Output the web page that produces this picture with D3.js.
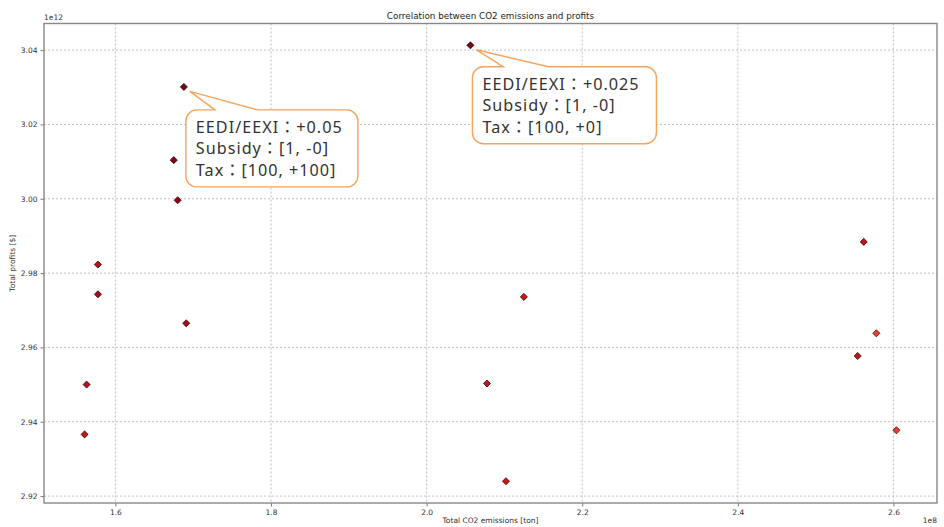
<!DOCTYPE html>
<html>
<head>
<meta charset="utf-8">
<script src="https://cdn.jsdelivr.net/npm/d3@7"></script>
<style>
  html, body { margin: 0; padding: 0; background: #fff; }
  svg { display: block; }
</style>
</head>
<body>
<svg id="chart" width="944" height="527"></svg>
<script>
// Scenario results: total CO2 emissions (×1e8 t) vs. total profits (×1e12 $)
const emissions = [1.688, 1.675, 1.680, 1.5775, 1.5776, 1.691, 1.563, 1.5604,
                   2.0563, 2.125, 2.0776, 2.102, 2.5618, 2.578, 2.554, 2.6038];
const profits   = [3.0301, 3.0104, 2.9996, 2.9823, 2.9743, 2.9665, 2.9500, 2.9366,
                   3.0413, 2.9736, 2.9503, 2.9240, 2.9884, 2.9638, 2.9577, 2.9377];
// colour intensity of each scenario (sequential Reds scale)
const tone      = [0.97, 0.94, 0.93, 0.83, 0.87, 0.87, 0.82, 0.80,
                   0.97, 0.77, 0.78, 0.77, 0.80, 0.62, 0.79, 0.63];

const xTicks = [1.6, 1.8, 2.0, 2.2, 2.4, 2.6];
const yTicks = [2.92, 2.94, 2.96, 2.98, 3.00, 3.02, 3.04];

// annotated scenarios: index of point and label lines
const notes = [
  { idx: 0, lines: ["EEDI/EEXI：+0.05", "Subsidy：[1, -0]", "Tax：[100, +100]"] },
  { idx: 8, lines: ["EEDI/EEXI：+0.025", "Subsidy：[1, -0]", "Tax：[100, +0]"] }
];

const svg = d3.select("#chart");
const W = 944, H = 527;
const m = { left: 44, right: 7, top: 23.5, bottom: 24 };
const pw = W - m.left - m.right, ph = H - m.top - m.bottom;

// matplotlib-like 5% data margins
function padded(vals) {
  const [a, b] = d3.extent(vals);
  const p = (b - a) * 0.05;
  return [a - p, b + p];
}
const x = d3.scaleLinear().domain(padded(emissions)).range([m.left, m.left + pw]);
const y = d3.scaleLinear().domain(padded(profits)).range([m.top + ph, m.top]);
const color = d3.scaleSequential(d3.interpolateReds).domain([0, 1]);

const font = "DejaVu Sans, sans-serif";

// grid
const grid = svg.append("g");
grid.selectAll(".gx").data(xTicks).join("line")
  .attr("x1", d => x(d)).attr("x2", d => x(d))
  .attr("y1", m.top).attr("y2", m.top + ph)
  .attr("stroke", "#b0b0b0").attr("stroke-width", 0.8).attr("stroke-dasharray", "2,2");
grid.selectAll(".gy").data(yTicks).join("line")
  .attr("y1", d => y(d)).attr("y2", d => y(d))
  .attr("x1", m.left).attr("x2", m.left + pw)
  .attr("stroke", "#b0b0b0").attr("stroke-width", 0.8).attr("stroke-dasharray", "2,2");

// axes
const xAxis = d3.axisBottom(x).tickValues(xTicks).tickFormat(d3.format(".1f"))
  .tickSizeInner(3.5).tickSizeOuter(0).tickPadding(3);
const yAxis = d3.axisLeft(y).tickValues(yTicks).tickFormat(d3.format(".2f"))
  .tickSizeInner(3.5).tickSizeOuter(0).tickPadding(3);

const gx = svg.append("g").attr("transform", `translate(0,${m.top + ph})`).call(xAxis);
const gy = svg.append("g").attr("transform", `translate(${m.left},0)`).call(yAxis);
[gx, gy].forEach(g => {
  g.select(".domain").remove();
  g.selectAll(".tick line").attr("stroke", "#555").attr("stroke-width", 0.8);
  g.selectAll(".tick text").attr("fill", "#333").style("font-family", font).style("font-size", "7.5px");
});

// frame
svg.append("rect").attr("x", m.left).attr("y", m.top).attr("width", pw).attr("height", ph)
  .attr("fill", "none").attr("stroke", "#888").attr("stroke-width", 1.4);

// offset labels
svg.append("text").attr("x", m.left).attr("y", m.top - 3.5).text("1e12")
  .attr("fill", "#333").style("font-family", font).style("font-size", "7.5px");
svg.append("text").attr("x", m.left + pw).attr("y", 523).attr("text-anchor", "end").text("1e8")
  .attr("fill", "#333").style("font-family", font).style("font-size", "7.5px");

// titles
svg.append("text").attr("x", m.left + pw / 2).attr("y", 19).attr("text-anchor", "middle")
  .text("Correlation between CO2 emissions and profits")
  .attr("fill", "#222").style("font-family", font).style("font-size", "8.8px");
svg.append("text").attr("x", m.left + pw / 2).attr("y", 523).attr("text-anchor", "middle")
  .text("Total CO2 emissions [ton]")
  .attr("fill", "#333").style("font-family", font).style("font-size", "7.5px");
svg.append("text").attr("transform", `translate(15,${m.top + ph / 2}) rotate(-90)`)
  .attr("text-anchor", "middle").text("Total profits [$]")
  .attr("fill", "#333").style("font-family", font).style("font-size", "7.5px");

// points (diamond markers)
const diamond = d3.symbol().type(d3.symbolSquare).size(25);
svg.append("g").selectAll("path").data(emissions).join("path")
  .attr("d", diamond)
  .attr("transform", (d, i) => `translate(${x(d)},${y(profits[i])}) rotate(45)`)
  .attr("fill", (d, i) => color(tone[i]))
  .attr("stroke", "#2a0000").attr("stroke-width", 0.7);

// callout boxes: box offset relative to the annotated point
const boxes = [
  { dx: 2, dy: 23, w: 172, h: 77, wedge: [29, 72] },
  { dx: 2, dy: 21.5, w: 184, h: 77, wedge: [31, 76] }
];
const noteFont = "'Noto Sans', 'Noto Sans CJK JP', sans-serif";
notes.forEach((n, k) => {
  const px = x(emissions[n.idx]), py = y(profits[n.idx]);
  const b = boxes[k];
  const bx = px + b.dx, by = py + b.dy, r = 11;
  const tipX = px + 6, tipY = py + 4.5;
  const w0 = bx + b.wedge[0], w1 = bx + b.wedge[1];
  const p = d3.path();
  p.moveTo(bx + r, by);
  p.lineTo(w0, by);
  p.lineTo(tipX, tipY);
  p.lineTo(w1, by);
  p.lineTo(bx + b.w - r, by);
  p.arcTo(bx + b.w, by, bx + b.w, by + r, r);
  p.lineTo(bx + b.w, by + b.h - r);
  p.arcTo(bx + b.w, by + b.h, bx + b.w - r, by + b.h, r);
  p.lineTo(bx + r, by + b.h);
  p.arcTo(bx, by + b.h, bx, by + b.h - r, r);
  p.lineTo(bx, by + r);
  p.arcTo(bx, by, bx + r, by, r);
  p.closePath();
  svg.append("path").attr("d", p.toString())
    .attr("fill", "#fff").attr("stroke", "#f4a460").attr("stroke-width", 1.4);
  n.lines.forEach((line, j) => {
    svg.append("text").attr("x", bx + 10).attr("y", by + 23 + j * 21.5).text(line)
      .attr("fill", "#333").style("font-family", noteFont)
      .style("font-size", "16.2px").style("letter-spacing", "1px");
  });
});
</script>
</body>
</html>
